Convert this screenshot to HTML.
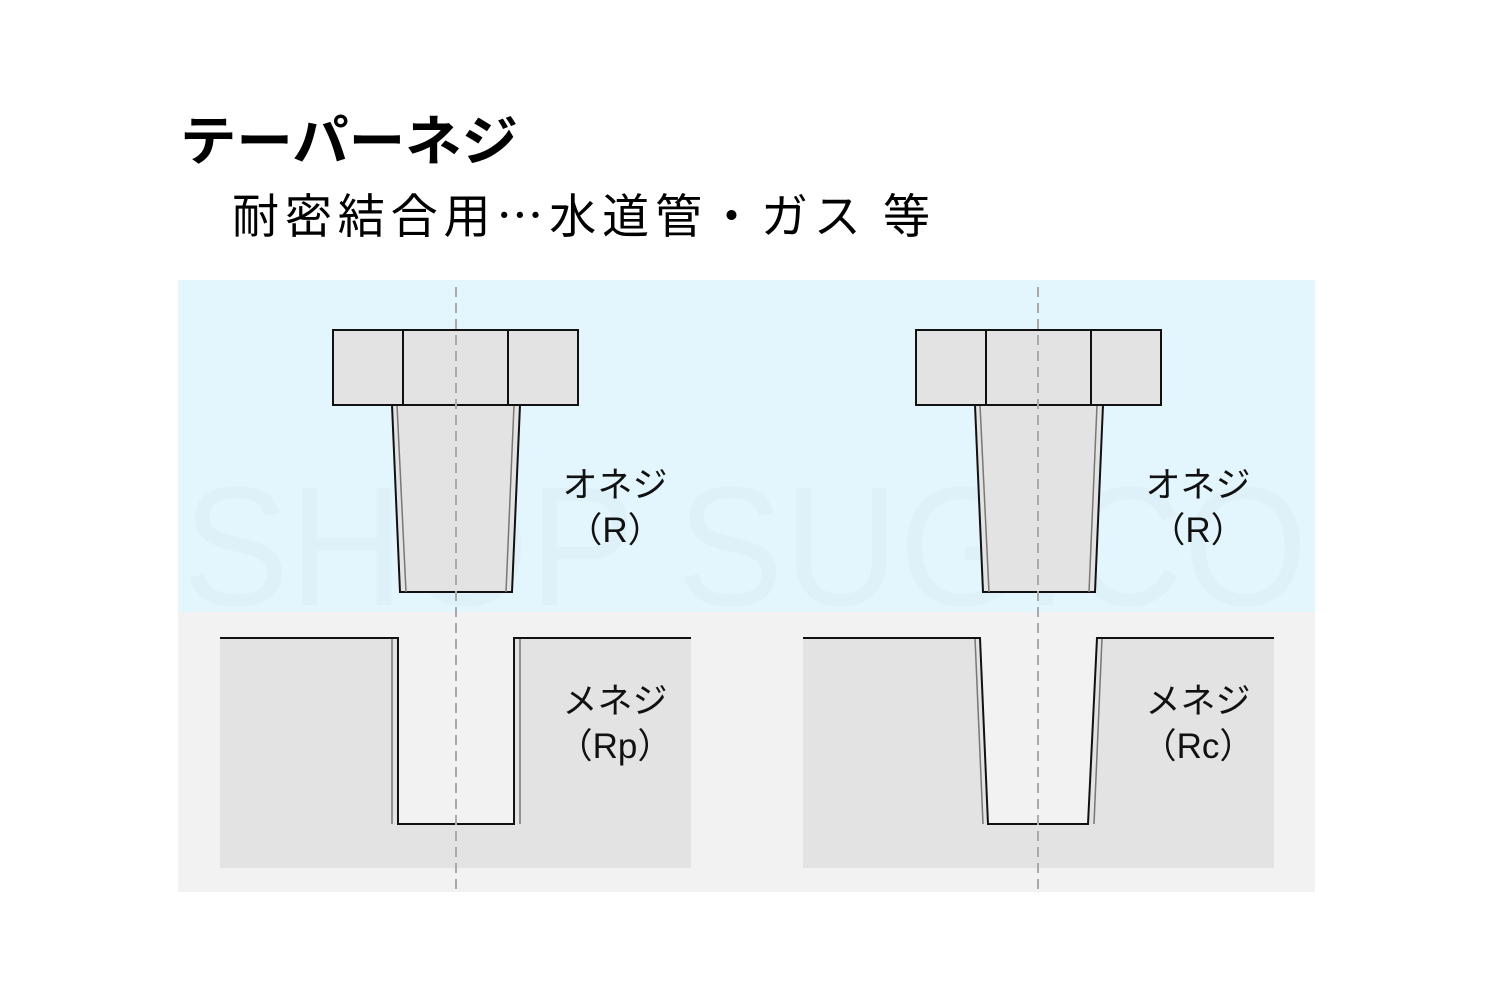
<!DOCTYPE html>
<html><head><meta charset="utf-8"><style>
html,body{margin:0;padding:0;background:#fff}
svg{display:block}
text{font-family:"Liberation Sans","Noto Sans CJK JP",sans-serif}
.cjk{font-family:"Noto Sans CJK JP",sans-serif}
</style></head><body>
<svg width="1500" height="1000" viewBox="0 0 1500 1000" xmlns="http://www.w3.org/2000/svg">
<rect width="1500" height="1000" fill="#fff"/>
<text x="180" y="160" font-size="54" font-weight="bold" textLength="338" lengthAdjust="spacingAndGlyphs">テーパーネジ</text>
<text class="cjk" x="232" y="233" font-size="47" textLength="698" lengthAdjust="spacing">耐密結合用…水道管・ガス 等</text>
<rect x="178" y="280" width="1137" height="332" fill="#e3f6fd"/>
<rect x="178" y="612" width="1137" height="280" fill="#f2f2f2"/>
<text x="745" y="605" font-size="170" fill="#000" fill-opacity="0.02" text-anchor="middle" textLength="1125" lengthAdjust="spacingAndGlyphs">SHOP SUGICO</text>

<g id="left">
<polygon points="392,405 520,405 512,592 400,592" fill="#e3e3e3" stroke="#111" stroke-width="2"/>
<line x1="397" y1="405" x2="406" y2="592" stroke="#777" stroke-width="1.5"/>
<line x1="514" y1="405" x2="506" y2="592" stroke="#777" stroke-width="1.5"/>
<rect x="333" y="330" width="245" height="75" fill="#e3e3e3" stroke="#111" stroke-width="2"/>
<line x1="403" y1="330" x2="403" y2="405" stroke="#111" stroke-width="2"/>
<line x1="508" y1="330" x2="508" y2="405" stroke="#111" stroke-width="2"/>
</g>
<polygon points="220,638 398,638 398,824 514,824 514,638 691,638 691,868 220,868" fill="#e3e3e3"/>
<line x1="392" y1="638" x2="392" y2="824" stroke="#777" stroke-width="1.5"/>
<line x1="520" y1="638" x2="520" y2="824" stroke="#777" stroke-width="1.5"/>
<polyline points="220,638 398,638 398,824 514,824 514,638 691,638" fill="none" stroke="#111" stroke-width="2"/>

<use href="#left" x="583"/>
<polygon points="803,638 980,638 988,824 1088,824 1097,638 1274,638 1274,868 803,868" fill="#e3e3e3"/>
<line x1="975" y1="638" x2="983" y2="824" stroke="#777" stroke-width="1.5"/>
<line x1="1102" y1="638" x2="1094" y2="824" stroke="#777" stroke-width="1.5"/>
<polyline points="803,638 980,638 988,824 1088,824 1097,638 1274,638" fill="none" stroke="#111" stroke-width="2"/>

<line x1="456" y1="287" x2="456" y2="892" stroke="#aaa" stroke-width="2" stroke-dasharray="10,6"/>
<line x1="1038" y1="287" x2="1038" y2="892" stroke="#aaa" stroke-width="2" stroke-dasharray="10,6"/>

<g font-size="35" fill="#111" text-anchor="middle">
<text x="615" y="497">オネジ</text>
<text x="615" y="542">（R）</text>
<text x="1198" y="497">オネジ</text>
<text x="1198" y="542">（R）</text>
<text x="615" y="713">メネジ</text>
<text x="615" y="758">（Rp）</text>
<text x="1198" y="713">メネジ</text>
<text x="1198" y="758">（Rc）</text>
</g>
</svg>
</body></html>
